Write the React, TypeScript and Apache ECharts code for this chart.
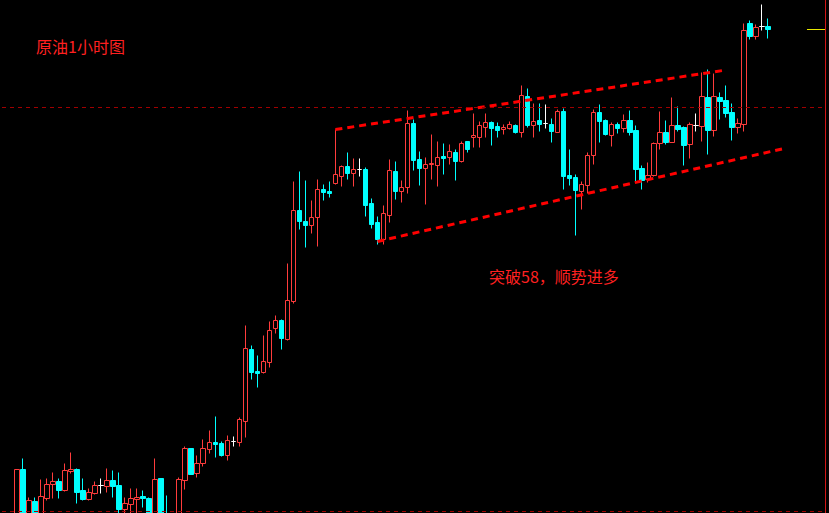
import React, { useEffect, useRef } from "react";
import * as echarts from "echarts";

// Crude oil 1h candles (price), oldest to newest
const openP = [
  55.885, 56.190, 55.935, 56.030, 55.960, 56.045, 56.115, 56.130, 56.085, 56.180,
  56.190, 56.085, 56.040, 56.070, 56.110, 56.105, 56.135, 56.110, 55.990, 56.015,
  56.040, 56.055, 56.045, 55.885, 56.145, 55.945, 55.860, 55.925, 56.135, 56.295,
  56.170, 56.220, 56.290, 56.325, 56.320, 56.260, 56.330, 56.325, 56.430, 56.790,
  56.680, 56.675, 56.725, 56.895, 56.935, 56.840, 57.030, 57.485, 57.430, 57.410,
  57.450, 57.590, 57.580, 57.620, 57.655, 57.705, 57.670, 57.690, 57.690, 57.520,
  57.425, 57.340, 57.460, 57.680, 57.580, 57.600, 57.920, 57.740, 57.695, 57.715,
  57.710, 57.755, 57.750, 57.775, 57.730, 57.830, 57.850, 57.850, 57.900, 57.925,
  57.905, 57.890, 57.895, 57.910, 57.875, 58.055, 57.910, 57.935, 57.920, 57.915,
  57.875, 57.980, 57.660, 57.650, 57.580, 57.610, 57.760, 57.975, 57.935, 57.860,
  57.915, 57.895, 57.935, 57.885, 57.695, 57.640, 57.660, 57.820, 57.875, 57.825,
  57.910, 57.900, 57.815, 57.910, 57.905, 58.050, 57.885, 58.050, 58.035, 57.975,
  57.900, 57.915, 58.420, 58.355, 58.405, 58.405,
];
const closeP = [
  56.190, 55.910, 56.035, 55.910, 56.055, 56.115, 56.130, 56.085, 56.185, 56.190,
  56.075, 56.040, 56.075, 56.110, 56.110, 56.135, 56.105, 55.990, 56.020, 56.045,
  56.050, 56.045, 55.885, 56.140, 55.935, 55.860, 55.925, 56.140, 56.295, 56.165,
  56.220, 56.295, 56.325, 56.315, 56.260, 56.335, 56.330, 56.440, 56.795, 56.675,
  56.670, 56.730, 56.885, 56.935, 56.845, 57.035, 57.485, 57.430, 57.410, 57.450,
  57.590, 57.575, 57.570, 57.665, 57.705, 57.670, 57.690, 57.690, 57.510, 57.415,
  57.340, 57.470, 57.685, 57.580, 57.600, 57.920, 57.735, 57.695, 57.715, 57.720,
  57.750, 57.745, 57.780, 57.730, 57.820, 57.790, 57.860, 57.910, 57.925, 57.895,
  57.885, 57.900, 57.915, 57.875, 58.060, 57.910, 57.930, 57.915, 57.920, 57.880,
  57.980, 57.655, 57.645, 57.585, 57.615, 57.760, 57.975, 57.930, 57.865, 57.915,
  57.895, 57.935, 57.875, 57.690, 57.635, 57.660, 57.820, 57.875, 57.825, 57.910,
  57.890, 57.810, 57.915, 57.910, 58.055, 57.885, 58.055, 58.030, 57.970, 57.900,
  57.920, 58.385, 58.355, 58.400, 58.405, 58.390,
];
const lowP = [
  55.860, 55.885, 55.910, 55.895, 55.945, 56.035, 56.045, 56.045, 56.080, 56.170,
  56.020, 56.035, 56.035, 56.065, 56.070, 56.075, 56.050, 55.955, 55.965, 55.965,
  55.965, 56.000, 55.860, 55.870, 55.910, 55.835, 55.810, 55.905, 56.090, 56.165,
  56.150, 56.205, 56.270, 56.250, 56.255, 56.235, 56.305, 56.305, 56.350, 56.640,
  56.600, 56.670, 56.700, 56.870, 56.790, 56.835, 57.020, 57.390, 57.300, 57.370,
  57.305, 57.535, 57.550, 57.615, 57.605, 57.640, 57.605, 57.655, 57.455, 57.395,
  57.315, 57.315, 57.425, 57.540, 57.525, 57.570, 57.685, 57.610, 57.515, 57.640,
  57.605, 57.665, 57.715, 57.635, 57.725, 57.775, 57.800, 57.800, 57.850, 57.810,
  57.850, 57.865, 57.890, 57.870, 57.850, 57.900, 57.850, 57.880, 57.895, 57.825,
  57.875, 57.590, 57.610, 57.360, 57.490, 57.570, 57.715, 57.825, 57.860, 57.805,
  57.870, 57.875, 57.860, 57.625, 57.590, 57.625, 57.655, 57.790, 57.815, 57.825,
  57.880, 57.710, 57.745, 57.880, 57.830, 57.765, 57.855, 57.940, 57.950, 57.835,
  57.870, 57.880, 58.340, 58.340, 58.385, 58.345,
];
const highP = [
  56.190, 56.245, 56.050, 56.050, 56.140, 56.145, 56.175, 56.145, 56.220, 56.275,
  56.195, 56.145, 56.095, 56.130, 56.145, 56.195, 56.185, 56.175, 56.050, 56.095,
  56.095, 56.085, 56.050, 56.245, 56.145, 56.060, 55.945, 56.150, 56.305, 56.295,
  56.260, 56.340, 56.385, 56.455, 56.330, 56.360, 56.355, 56.450, 56.910, 56.810,
  56.760, 56.860, 56.930, 56.960, 56.940, 57.220, 57.630, 57.680, 57.635, 57.535,
  57.640, 57.615, 57.630, 57.890, 57.710, 57.775, 57.745, 57.745, 57.700, 57.545,
  57.455, 57.510, 57.740, 57.730, 57.635, 57.985, 57.940, 57.780, 57.750, 57.865,
  57.830, 57.820, 57.815, 57.790, 57.830, 57.830, 57.970, 57.930, 57.970, 57.930,
  57.925, 57.915, 57.930, 57.915, 58.110, 58.095, 58.020, 58.020, 58.015, 57.945,
  57.990, 57.995, 57.790, 57.665, 57.630, 57.775, 57.990, 58.015, 57.940, 57.925,
  57.925, 57.965, 57.985, 57.910, 57.710, 57.725, 57.825, 57.980, 57.935, 58.050,
  58.005, 57.905, 57.925, 57.970, 58.175, 58.190, 58.170, 58.075, 58.110, 58.020,
  57.945, 58.420, 58.435, 58.415, 58.515, 58.445,
];

// Empty slots before/after the candles (chart scrolled area)
const LEAD = 2;
const TRAIL = 9;
const TOTAL = LEAD + openP.length + TRAIL;
const categories = Array.from({ length: TOTAL }, (_, i) => `H${i}`);

// Reference levels
const levelBreak = 58.0;
const levelLow = 55.98;
// Trend channel (candle index, price)
const upperChannel = [[53, 57.89], [117.5, 58.185]];
const lowerChannel = [[60, 57.33], [127.67, 57.795]];

const Y_MIN = 55.9725;
const Y_MAX = 58.5375;

export default function App() {
  const ref = useRef<HTMLDivElement>(null);
  useEffect(() => {
    if (!ref.current) return;
    const chart = echarts.init(ref.current, undefined, { renderer: "svg" });
    const candles: any[] = [];
    for (let i = 0; i < TOTAL; i++) {
      const k = i - LEAD;
      if (k >= 0 && k < openP.length) {
        candles.push([openP[k], closeP[k], lowP[k], highP[k]]);
      } else {
        candles.push(["-", "-", "-", "-"]);
      }
    }
    const shift = (pts: number[][]) => pts.map(([x, y]) => [x + LEAD, y]);
    const lastClose = closeP[closeP.length - 1];
    const lastIdx = LEAD + closeP.length - 1;
    chart.setOption({
      animation: false,
      backgroundColor: "#000000",
      grid: { left: 2, right: 4, top: 0, bottom: 0, containLabel: false },
      xAxis: [
        {
          type: "category",
          data: categories,
          boundaryGap: true,
          show: false,
        },
        {
          type: "value",
          min: -0.5,
          max: TOTAL - 0.5,
          show: false,
        },
      ],
      yAxis: {
        type: "value",
        position: "right",
        min: Y_MIN,
        max: Y_MAX,
        axisLine: { show: true, onZero: false, lineStyle: { color: "#d01414", width: 1 } },
        axisTick: { show: false },
        axisLabel: { show: false },
        splitLine: { show: false },
      },
      graphic: [
        {
          type: "text",
          left: 36,
          top: 38,
          style: {
            text: "原油1小时图",
            fill: "#ff2020",
            font: '16px "Noto Sans CJK SC"',
          },
        },
        {
          type: "text",
          left: 489,
          top: 268,
          style: {
            text: "突破58，顺势进多",
            fill: "#ff2020",
            font: '16px "Noto Sans CJK SC"',
          },
        },
      ],
      series: [
        {
          type: "candlestick",
          data: candles,
          barWidth: 5,
          clip: true,
          itemStyle: {
            color: "#000000",
            color0: "#00ffff",
            borderColor: "#ff3c3c",
            borderColor0: "#00ffff",
            borderColorDoji: "#ffffff",
            borderWidth: 1,
          },
          markLine: {
            silent: true,
            symbol: ["none", "none"],
            label: { show: false },
            lineStyle: { color: "#a00000", type: [4, 4], width: 1, opacity: 1 },
            data: [{ yAxis: levelBreak }, { yAxis: levelLow }],
          },
        },
        {
          type: "line",
          xAxisIndex: 1,
          data: shift(upperChannel),
          symbol: "none",
          lineStyle: { color: "#ff0000", width: 3, type: [7, 5] },
        },
        {
          type: "line",
          xAxisIndex: 1,
          data: shift(lowerChannel),
          symbol: "none",
          lineStyle: { color: "#ff0000", width: 3, type: [7, 5] },
        },
        {
          type: "line",
          xAxisIndex: 1,
          data: [
            [lastIdx + 6.5, lastClose],
            [TOTAL - 0.5, lastClose],
          ],
          symbol: "none",
          lineStyle: { color: "#e8e800", width: 1 },
        },
      ],
    });
    return () => chart.dispose();
  }, []);
  return (
    <div
      ref={ref}
      style={{ position: "absolute", left: 0, top: 0, width: 829, height: 513 }}
    />
  );
}
